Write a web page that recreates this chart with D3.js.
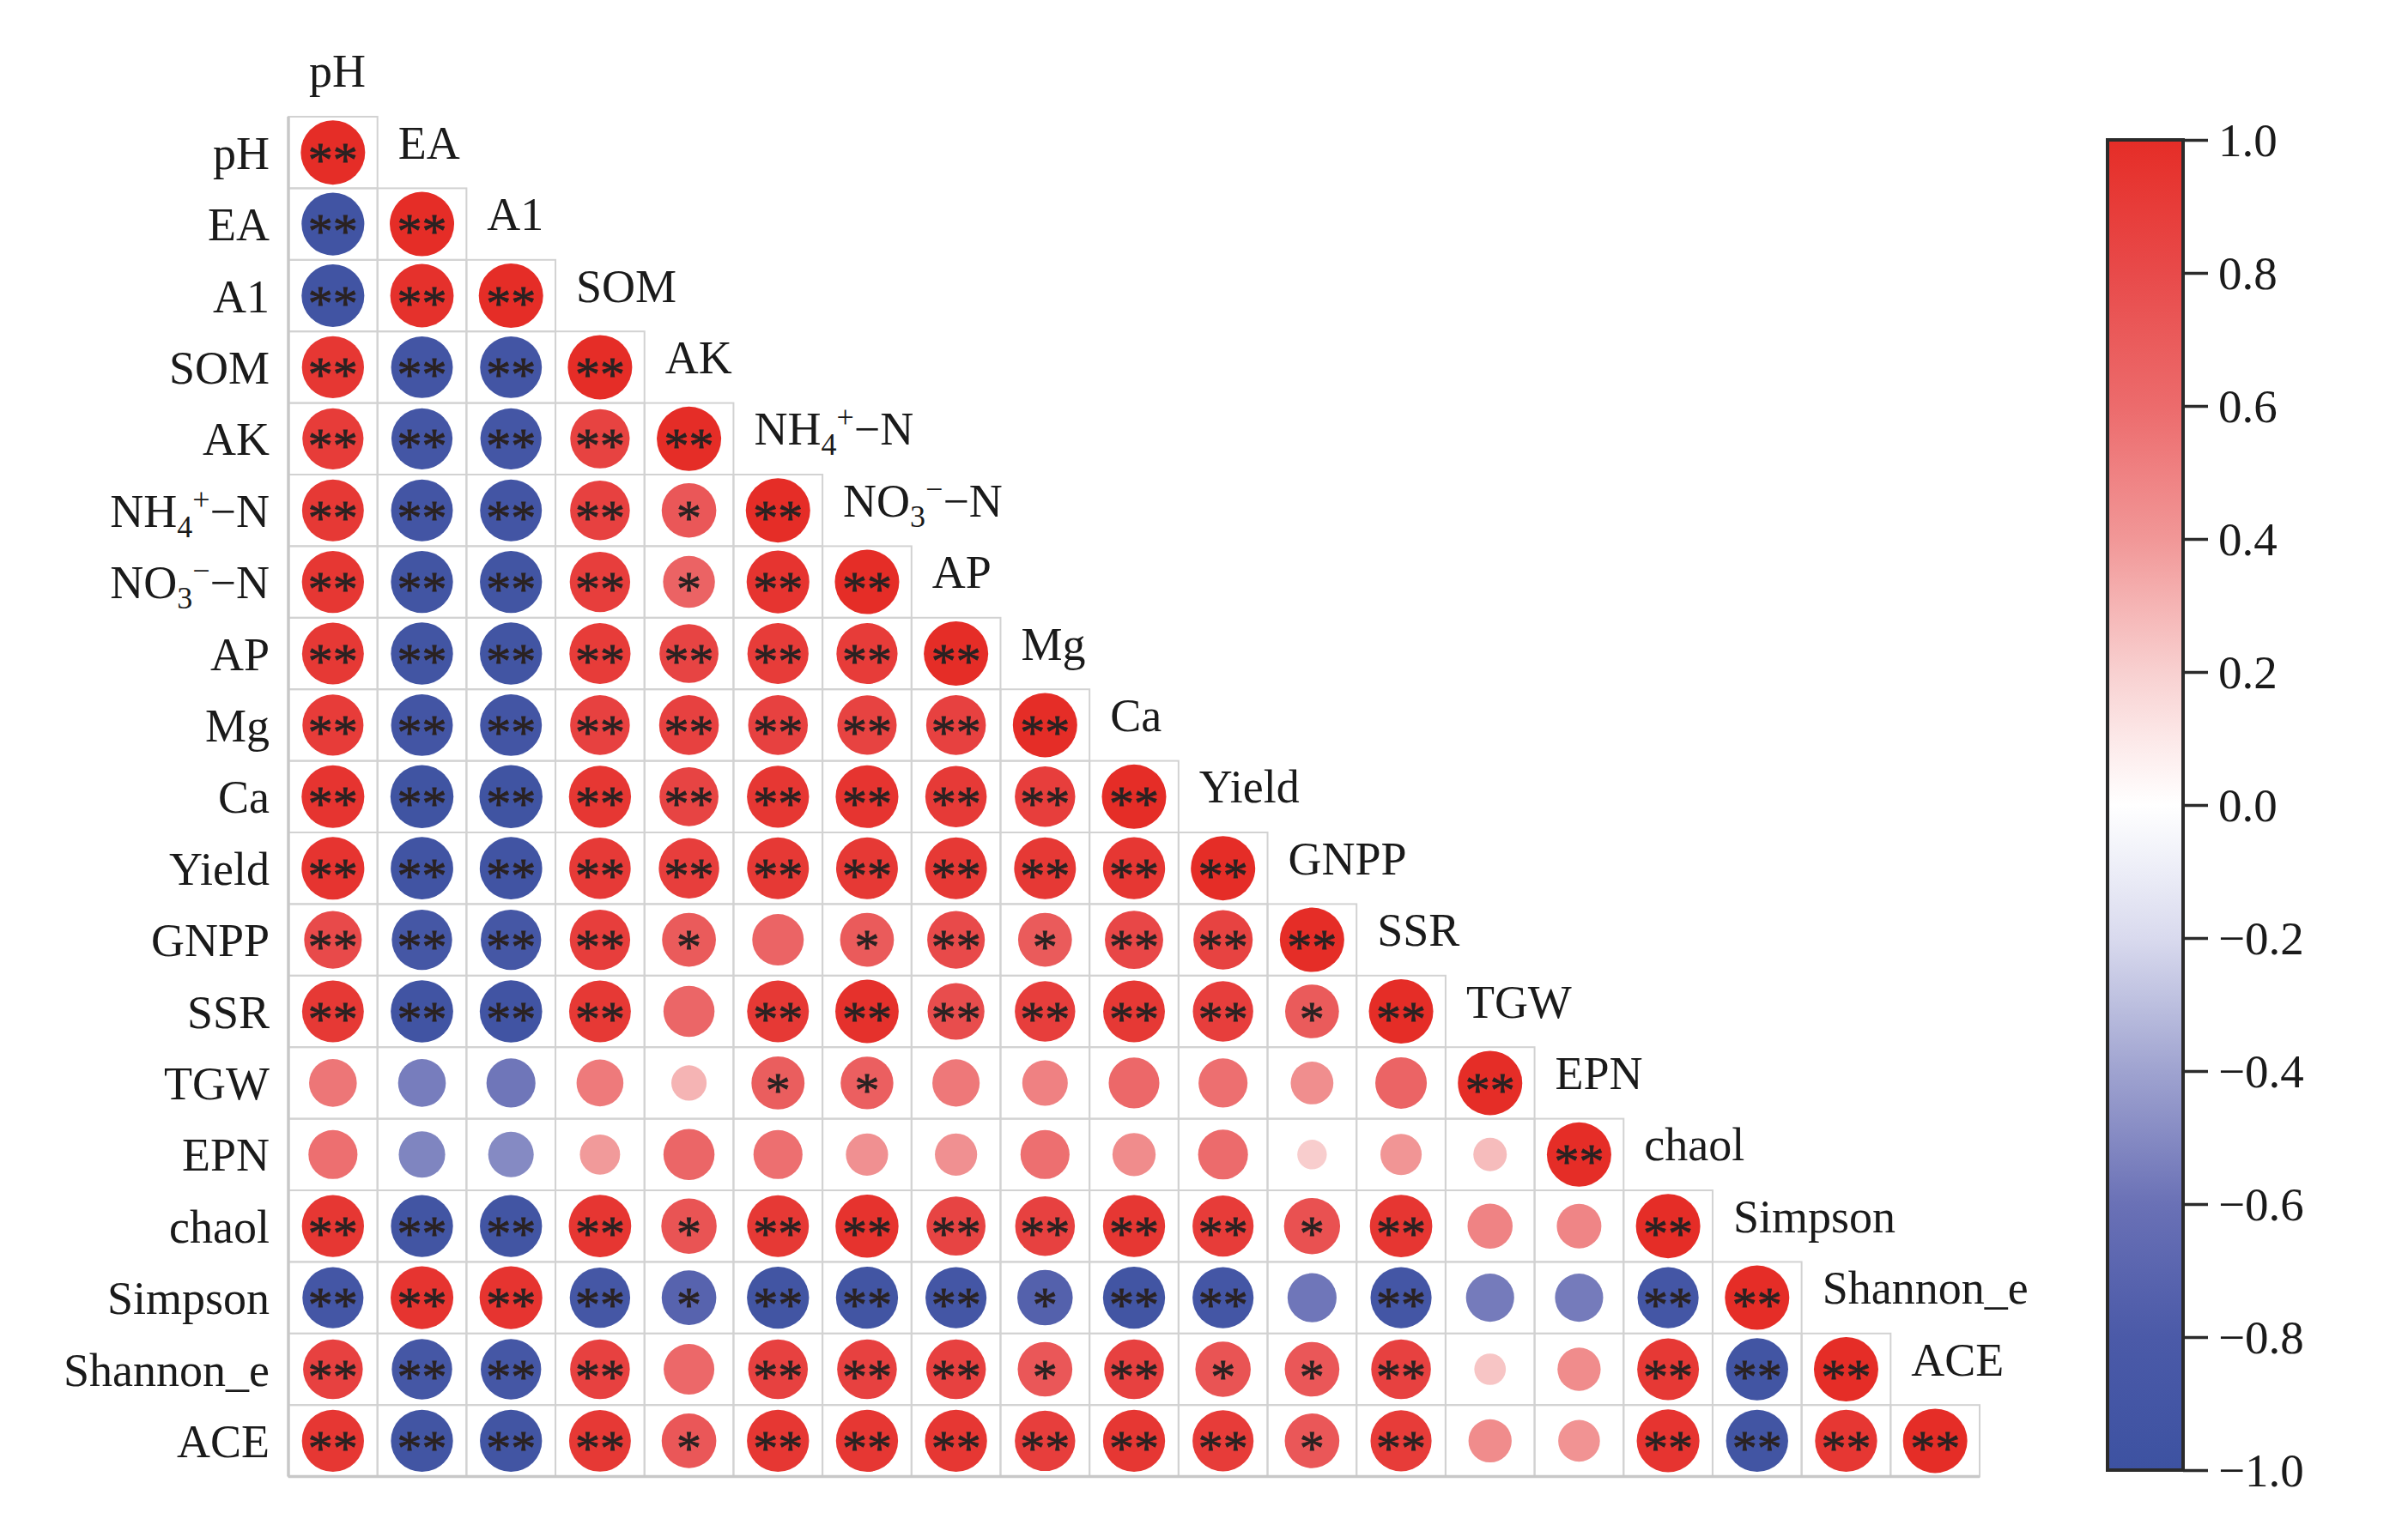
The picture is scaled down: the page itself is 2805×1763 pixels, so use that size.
<!DOCTYPE html>
<html>
<head>
<meta charset="utf-8">
<script src="https://cdn.jsdelivr.net/npm/d3@7"></script>
<style>
  body { margin: 0; background: #fff; }
  text { font-family: "Liberation Serif", "Times New Roman", serif; fill: #1a1a1a; }
</style>
</head>
<body>
<div id="chart"></div>
<script>
// variable names (rows and columns)
const vars = ["pH", "EA", "A1", "SOM", "AK", "NH4", "NO3", "AP", "Mg", "Ca", "Yield",
  "GNPP", "SSR", "TGW", "EPN", "chaol", "Simpson", "Shannon_e", "ACE"];

// lower triangle of the correlation matrix, row by row
const corr = [
  [1],
  [-0.95, 1],
  [-0.95, 0.97, 1],
  [0.93, -0.92, -0.92, 1],
  [0.90, -0.90, -0.90, 0.85, 1],
  [0.92, -0.92, -0.92, 0.86, 0.72, 1],
  [0.93, -0.93, -0.93, 0.88, 0.65, 0.95, 1],
  [0.92, -0.93, -0.93, 0.90, 0.84, 0.90, 0.90, 1],
  [0.90, -0.92, -0.92, 0.86, 0.86, 0.86, 0.85, 0.86, 1],
  [0.95, -0.96, -0.96, 0.93, 0.84, 0.93, 0.95, 0.91, 0.88, 1],
  [0.95, -0.94, -0.94, 0.91, 0.88, 0.92, 0.92, 0.92, 0.92, 0.93, 1],
  [0.80, -0.88, -0.88, 0.88, 0.70, 0.64, 0.70, 0.80, 0.70, 0.82, 0.85, 1],
  [0.92, -0.94, -0.94, 0.92, 0.63, 0.92, 0.97, 0.78, 0.88, 0.92, 0.88, 0.70, 1],
  [0.55, -0.55, -0.58, 0.53, 0.30, 0.68, 0.67, 0.54, 0.50, 0.62, 0.58, 0.44, 0.64, 1],
  [0.58, -0.52, -0.50, 0.39, 0.63, 0.58, 0.43, 0.43, 0.58, 0.45, 0.60, 0.21, 0.41, 0.27, 1],
  [0.93, -0.93, -0.93, 0.94, 0.74, 0.92, 0.96, 0.84, 0.86, 0.93, 0.90, 0.76, 0.94, 0.49, 0.48, 1],
  [-0.90, 0.95, 0.95, -0.88, -0.72, -0.93, -0.93, -0.90, -0.74, -0.93, -0.90, -0.58, -0.90, -0.56, -0.56, -0.90, 1],
  [0.86, -0.88, -0.88, 0.86, 0.62, 0.86, 0.86, 0.86, 0.72, 0.86, 0.74, 0.72, 0.86, 0.24, 0.45, 0.92, -0.93, 1],
  [0.93, -0.93, -0.93, 0.92, 0.72, 0.93, 0.93, 0.93, 0.88, 0.93, 0.90, 0.72, 0.90, 0.45, 0.42, 0.95, -0.93, 0.93, 1]
];

// significance marks, same layout as corr
const sig = [
  ["**"],
  ["**", "**"],
  ["**", "**", "**"],
  ["**", "**", "**", "**"],
  ["**", "**", "**", "**", "**"],
  ["**", "**", "**", "**", "*", "**"],
  ["**", "**", "**", "**", "*", "**", "**"],
  ["**", "**", "**", "**", "**", "**", "**", "**"],
  ["**", "**", "**", "**", "**", "**", "**", "**", "**"],
  ["**", "**", "**", "**", "**", "**", "**", "**", "**", "**"],
  ["**", "**", "**", "**", "**", "**", "**", "**", "**", "**", "**"],
  ["**", "**", "**", "**", "*", "", "*", "**", "*", "**", "**", "**"],
  ["**", "**", "**", "**", "", "**", "**", "**", "**", "**", "**", "*", "**"],
  ["", "", "", "", "", "*", "*", "", "", "", "", "", "", "**"],
  ["", "", "", "", "", "", "", "", "", "", "", "", "", "", "**"],
  ["**", "**", "**", "**", "*", "**", "**", "**", "**", "**", "**", "*", "**", "", "", "**"],
  ["**", "**", "**", "**", "*", "**", "**", "**", "*", "**", "**", "", "**", "", "", "**", "**"],
  ["**", "**", "**", "**", "", "**", "**", "**", "*", "**", "*", "*", "**", "", "", "**", "**", "**"],
  ["**", "**", "**", "**", "*", "**", "**", "**", "**", "**", "**", "*", "**", "", "", "**", "**", "**", "**"]
];

// colour bar ticks
const barTicks = [1.0, 0.8, 0.6, 0.4, 0.2, 0.0, -0.2, -0.4, -0.6, -0.8, -1.0];
const colorStops = [-1, -0.8, -0.6, -0.4, -0.2, 0, 0.2, 0.4, 0.6, 0.8, 1];
const colorRange = ["#3d52a1", "#4b5aa8", "#6a71b6", "#9fa3d0", "#d9daee", "#ffffff",
  "#f8d0d0", "#f19797", "#ec6b6c", "#e84a4a", "#e52d27"];

const W = 2805, H = 1763;
const svg = d3.select("#chart").append("svg").attr("width", W).attr("height", H);

const x = d3.scaleBand().domain(vars).range([336, 2306]);
const y = d3.scaleBand().domain(vars).range([136, 1720.6]);
const color = d3.scaleLinear().domain(colorStops).range(colorRange);
const rad = d3.scaleSqrt().domain([0, 1]).range([0, 37.5]);

const cells = [];
corr.forEach((row, i) => row.forEach((v, j) => cells.push({ i, j, v, s: sig[i][j] })));

const g = svg.append("g");

// grid cells
g.selectAll("rect.cell").data(cells).join("rect")
  .attr("class", "cell")
  .attr("x", d => x(vars[d.j]))
  .attr("y", d => y(vars[d.i]))
  .attr("width", x.bandwidth())
  .attr("height", y.bandwidth())
  .attr("fill", "none")
  .attr("stroke", "#d2d2d2")
  .attr("stroke-width", 2);

// outer left / bottom edge is a bit heavier
g.append("line")
  .attr("x1", x.range()[0]).attr("x2", x.range()[0])
  .attr("y1", y.range()[0]).attr("y2", y.range()[1])
  .attr("stroke", "#c8c8c8").attr("stroke-width", 3.5);
g.append("line")
  .attr("x1", x.range()[0]).attr("x2", x.range()[1])
  .attr("y1", y.range()[1]).attr("y2", y.range()[1])
  .attr("stroke", "#c8c8c8").attr("stroke-width", 3.5);

// circles
g.selectAll("circle").data(cells).join("circle")
  .attr("cx", d => x(vars[d.j]) + x.bandwidth() / 2)
  .attr("cy", d => y(vars[d.i]) + y.bandwidth() / 2)
  .attr("r", d => rad(Math.abs(d.v)))
  .attr("fill", d => color(d.v));

// significance stars
g.selectAll("text.star").data(cells.filter(d => d.s)).join("text")
  .attr("class", "star")
  .attr("x", d => x(vars[d.j]) + x.bandwidth() / 2)
  .attr("y", d => y(vars[d.i]) + y.bandwidth() / 2 + 28)
  .attr("text-anchor", "middle")
  .attr("font-size", 58)
  .style("fill", "#2a2222")
  .style("stroke", "#2a2222")
  .style("stroke-width", 0.8)
  .text(d => d.s);

// label with sub/superscripts for the nitrogen variables
function label(sel, name) {
  if (name === "NH4") {
    sel.append("tspan").text("NH");
    sel.append("tspan").attr("font-size", 36).attr("dy", 12).text("4");
    sel.append("tspan").attr("font-size", 36).attr("dy", -32).text("+");
    sel.append("tspan").attr("dy", 20).text("−N");
  } else if (name === "NO3") {
    sel.append("tspan").text("NO");
    sel.append("tspan").attr("font-size", 36).attr("dy", 12).text("3");
    sel.append("tspan").attr("font-size", 36).attr("dy", -32).text("−");
    sel.append("tspan").attr("dy", 20).text("−N");
  } else {
    sel.text(name);
  }
}

// row labels on the left
vars.forEach(v => {
  const t = svg.append("text")
    .attr("x", 314)
    .attr("y", y(v) + y.bandwidth() / 2 + 19)
    .attr("text-anchor", "end")
    .attr("font-size", 54);
  label(t, v);
});

// column labels along the diagonal
vars.forEach((v, k) => {
  const t = svg.append("text")
    .attr("x", x(v) + 24)
    .attr("y", y(vars[0]) + (k - 0.5) * y.bandwidth() + 7)
    .attr("font-size", 54);
  label(t, v);
});

// colour bar
const barX = 2455, barW = 88;
const by = d3.scaleLinear().domain([1, -1]).range([163, 1713]);
const grad = svg.append("defs").append("linearGradient")
  .attr("id", "cbar").attr("x1", 0).attr("x2", 0).attr("y1", 0).attr("y2", 1);
d3.range(0, 1.0001, 0.05).forEach(t => {
  grad.append("stop").attr("offset", t).attr("stop-color", color(1 - 2 * t));
});
svg.append("rect")
  .attr("x", barX).attr("y", by(1))
  .attr("width", barW).attr("height", by(-1) - by(1))
  .attr("fill", "url(#cbar)")
  .attr("stroke", "#2b2b2b").attr("stroke-width", 4);

const axis = svg.append("g")
  .attr("transform", `translate(${barX + barW},0)`)
  .call(d3.axisRight(by).tickValues(barTicks).tickSize(29).tickPadding(12).tickFormat(d3.format(".1f")));
axis.select(".domain").remove();
axis.selectAll(".tick line").attr("stroke", "#2b2b2b").attr("stroke-width", 3.5);
axis.selectAll(".tick text")
  .attr("font-size", 55)
  .attr("font-family", "Liberation Serif")
  .attr("dy", "0.34em")
  .style("fill", "#1a1a1a");
</script>
</body>
</html>
